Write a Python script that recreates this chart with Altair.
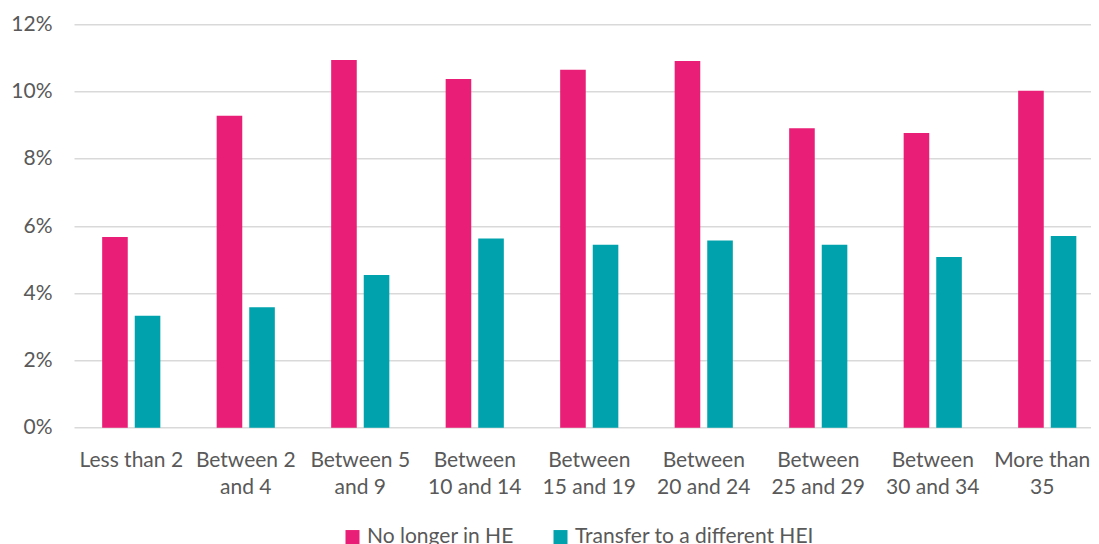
import altair as alt
import pandas as pd

categories = ["Less than 2", "Between 2 and 4", "Between 5 and 9", "Between 10 and 14",
              "Between 15 and 19", "Between 20 and 24", "Between 25 and 29",
              "Between 30 and 34", "More than 35"]
tick_labels = ["Less than 2", "Between 2|and 4", "Between 5|and 9", "Between|10 and 14",
               "Between|15 and 19", "Between|20 and 24", "Between|25 and 29",
               "Between|30 and 34", "More than|35"]
series = ["No longer in HE", "Transfer to a different HEI"]
no_longer = [5.67, 9.28, 10.94, 10.37, 10.65, 10.91, 8.91, 8.77, 10.02]
transfer = [3.33, 3.58, 4.54, 5.63, 5.44, 5.57, 5.44, 5.08, 5.70]
colors = ["#E91E76", "#00A3AD"]

rows = []
for i, c in enumerate(categories):
    rows.append({"cat": c, "label": tick_labels[i], "series": series[0], "value": no_longer[i]})
    rows.append({"cat": c, "label": tick_labels[i], "series": series[1], "value": transfer[i]})
df = pd.DataFrame(rows)

label_map = "{" + ",".join(f"'{c}':'{l}'" for c, l in zip(categories, tick_labels)) + "}"

FONT = "Lato"
GREY = "#595959"

last_offset = {"condition": {"test": f"datum.value === '{categories[-1]}'", "value": -5}, "value": 0}

chart = alt.Chart(df).mark_bar().encode(
    x=alt.X("cat:N", sort=categories,
            scale=alt.Scale(range=[0, 1030.5], paddingInner=0.492, paddingOuter=0.246),
            axis=alt.Axis(title=None, labelAngle=0, domain=False, ticks=False,
                          labelPadding=22, labelFontSize=21, labelColor=GREY, labelFont=FONT,
                          labelLineHeight=27, labelLimit=200, labelOffset=last_offset,
                          labelExpr=f"split({label_map}[datum.value], '|')")),
    xOffset=alt.XOffset("series:N", sort=series,
                        scale=alt.Scale(paddingInner=0.2147, paddingOuter=0)),
    y=alt.Y("value:Q", scale=alt.Scale(domain=[0, 12], nice=False),
            axis=alt.Axis(title=None, values=[0, 2, 4, 6, 8, 10, 12], domain=False, ticks=False,
                          labelPadding=22, labelFontSize=21, labelColor=GREY, labelFont=FONT,
                          labelExpr="datum.value + '%'", gridColor="#D9D9D9", gridWidth=1.5)),
    color=alt.Color("series:N", sort=series, scale=alt.Scale(domain=series, range=colors),
                    legend=alt.Legend(title=None, orient="none", direction="horizontal",
                                      legendX=268, legendY=502, symbolType="square",
                                      symbolSize=196, symbolStrokeWidth=0, labelFontSize=21,
                                      labelColor=GREY, labelFont=FONT, labelOffset=4,
                                      columnPadding=36, labelLimit=400)),
).properties(
    width=1017, height=403.4,
    autosize=alt.AutoSizeParams(type="none"),
    padding={"left": 66, "top": 16.3, "right": 0, "bottom": 116.3},
).configure_view(stroke=None)

chart.save("out.html", embed_options={"renderer": "svg", "actions": False})
